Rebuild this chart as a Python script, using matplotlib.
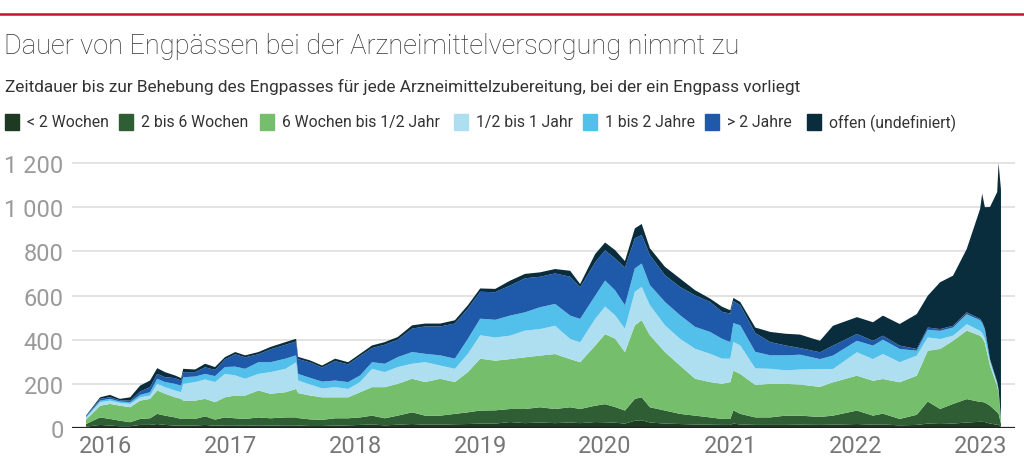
import matplotlib.pyplot as plt
import matplotlib.patches as mpatches
import pandas as pd

dates = [
    "2015-11-06", "2015-12-17", "2016-01-15", "2016-02-13", "2016-03-14", "2016-04-12",
    "2016-05-11", "2016-06-01", "2016-06-24", "2016-07-23", "2016-08-10", "2016-08-16",
    "2016-09-20", "2016-10-19", "2016-11-17", "2016-12-16", "2017-01-15", "2017-02-13",
    "2017-03-24", "2017-04-28", "2017-06-11", "2017-07-12", "2017-07-18", "2017-08-22",
    "2017-09-26", "2017-11-03", "2017-12-11", "2018-01-15", "2018-02-19", "2018-03-28",
    "2018-05-05", "2018-06-16", "2018-07-24", "2018-09-06", "2018-10-19", "2018-11-26",
    "2019-01-01", "2019-02-14", "2019-03-29", "2019-05-12", "2019-06-25", "2019-08-08",
    "2019-09-21", "2019-10-20", "2019-12-03", "2020-01-01", "2020-01-30", "2020-02-28",
    "2020-03-28", "2020-04-17", "2020-05-11", "2020-06-24", "2020-08-07", "2020-09-20",
    "2020-11-03", "2020-12-08", "2021-01-01", "2021-01-10", "2021-01-30", "2021-03-15",
    "2021-04-28", "2021-06-11", "2021-07-24", "2021-09-20", "2021-10-28", "2022-01-06",
    "2022-02-22", "2022-03-23", "2022-05-11", "2022-06-30", "2022-08-01", "2022-09-06",
    "2022-10-14", "2022-11-23", "2023-01-01", "2023-01-07", "2023-01-15", "2023-01-30",
    "2023-02-20", "2023-02-24", "2023-03-03",
]

lt_2w = [6, 14, 11, 8, 8, 14, 14, 18, 14, 11, 11, 11, 11, 14, 10, 12, 12, 10, 12, 11, 12, 12,
         11, 9, 9, 11, 12, 14, 16, 12, 15, 18, 15, 15, 17, 18, 20, 20, 27, 22, 25, 22, 25, 22,
         27, 26, 24, 20, 33, 35, 25, 20, 18, 16, 15, 14, 14, 20, 16, 14, 14, 14, 15, 14, 15,
         18, 15, 16, 12, 14, 20, 18, 20, 25, 28, 28, 27, 20, 15, 14, 5]
w2_6 = [12, 34, 30, 25, 18, 27, 30, 46, 42, 37, 30, 30, 30, 39, 28, 36, 32, 31, 36, 33, 36, 36,
        34, 30, 28, 33, 32, 34, 40, 32, 41, 53, 41, 41, 47, 53, 59, 60, 59, 64, 69, 64, 69, 64,
        74, 82, 71, 59, 99, 104, 69, 59, 46, 40, 33, 27, 27, 60, 48, 34, 34, 42, 41, 36, 41,
        61, 41, 49, 29, 46, 100, 68, 89, 106, 90, 90, 88, 81, 56, 51, 15]
w6_half = [20, 53, 68, 68, 68, 83, 88, 106, 99, 91, 91, 83, 83, 79, 79, 91, 103, 106, 122, 111,
           114, 129, 113, 108, 102, 95, 95, 114, 129, 141, 144, 152, 152, 167, 144, 182, 235,
           225, 226, 234, 234, 249, 218, 212, 272, 317, 310, 265, 333, 349, 326, 265, 219, 167,
           160, 159, 167, 180, 181, 147, 152, 144, 141, 136, 151, 158, 158, 157, 166, 177, 230,
           272, 286, 310, 300, 290, 270, 181, 119, 95, 20]
half_1 = [8, 16, 15, 13, 15, 15, 15, 30, 30, 31, 30, 76, 84, 88, 91, 106, 91, 76, 75, 98, 106,
          121, 57, 50, 40, 46, 38, 46, 83, 68, 76, 68, 90, 60, 60, 83, 106, 105, 106, 121, 120,
          128, 91, 90, 121, 125, 106, 106, 152, 151, 136, 121, 121, 136, 128, 114, 106, 130,
          129, 75, 68, 61, 68, 81, 60, 106, 98, 113, 91, 91, 60, 45, 23, 29, 22, 22, 20, 16,
          10, 8, 2]
y1_2 = [4, 7, 8, 6, 8, 11, 15, 23, 23, 30, 30, 30, 25, 25, 27, 31, 40, 45, 53, 45, 46, 31, 30,
        30, 31, 30, 31, 30, 30, 38, 45, 53, 38, 46, 46, 68, 75, 80, 91, 83, 99, 99, 106, 106,
        105, 118, 113, 106, 106, 106, 91, 106, 107, 99, 99, 90, 75, 85, 91, 75, 61, 68, 67,
        45, 61, 52, 61, 65, 60, 22, 35, 37, 37, 45, 48, 45, 40, 10, 5, 4, 1]
gt_2y = [3, 8, 7, 6, 7, 15, 23, 22, 22, 26, 23, 23, 20, 30, 28, 35, 56, 52, 36, 58, 63, 63, 67,
         70, 64, 88, 80, 88, 64, 86, 79, 106, 124, 131, 159, 137, 122, 125, 136, 154, 138, 138,
         176, 143, 151, 137, 144, 170, 136, 129, 136, 121, 128, 143, 136, 122, 129, 100, 91,
         85, 60, 45, 30, 31, 45, 31, 22, 18, 15, 8, 10, 8, 8, 9, 6, 6, 5, 4, 3, 3, 1]
offen = [3, 7, 11, 6, 15, 27, 30, 26, 23, 12, 11, 15, 12, 16, 13, 10, 10, 9, 10, 11, 12, 12,
         10, 9, 9, 11, 10, 10, 12, 12, 12, 15, 13, 13, 15, 15, 15, 15, 22, 20, 20, 20, 27, 15,
         38, 35, 38, 30, 45, 50, 31, 38, 38, 23, 15, 23, 15, 14, 15, 25, 46, 53, 61, 52, 90,
         76, 84, 91, 98, 158, 144, 212, 227, 287, 498, 580, 550, 689, 861, 1025, 1036]

labels = ["< 2 Wochen", "2 bis 6 Wochen", "6 Wochen bis 1/2 Jahr", "1/2 bis 1 Jahr",
          "1 bis 2 Jahre", "> 2 Jahre", "offen (undefiniert)"]
colors = ["#1e3a23", "#2f5e34", "#74be6c", "#aedff0", "#52c0ea", "#1f5aaa", "#092d3d"]

plt.rcParams['font.family'] = ['Roboto', 'DejaVu Sans']

x = pd.to_datetime(dates)
fig = plt.figure(figsize=(10.24, 4.77), dpi=100)
ax = fig.add_axes([72 / 1024, 48 / 477, 943 / 1024, 276 / 477])

ax.stackplot(x, lt_2w, w2_6, w6_half, half_1, y1_2, gt_2y, offen,
             colors=colors, linewidth=0)

ax.set_xlim(pd.Timestamp("2015-09-26"), pd.Timestamp("2023-04-13"))
ax.set_ylim(0, 1250)
yt = [0, 200, 400, 600, 800, 1000, 1200]
ax.set_yticks(yt)
ax.set_yticklabels([f"{v:,}".replace(",", " ") for v in yt])
years = list(range(2016, 2024))
ax.set_xticks(pd.to_datetime([f"{y}-01-01" for y in years]))
ax.set_xticklabels([str(y) for y in years])
ax.tick_params(axis='y', length=0, pad=6, labelsize=17, labelcolor='#9a9a9a')
ax.tick_params(axis='x', length=0, pad=4, labelsize=17, labelcolor='#777777')
ax.grid(axis='y', color='#e0e0e0', linewidth=1.3)
ax.set_axisbelow(True)
for s in ax.spines.values():
    s.set_visible(False)
ax.axhline(0, color='#222222', linewidth=1.6, zorder=5)

# header
fig.add_artist(plt.Line2D([0, 1], [1 - 15 / 477, 1 - 15 / 477], color='#c8102e', linewidth=1.8))
fig.text(4 / 1024, 1 - 47 / 477, "Dauer von Engpässen bei der Arzneimittelversorgung nimmt zu",
         fontsize=19.5, color='#333333', va='center', ha='left', fontweight='light')
fig.text(5 / 1024, 1 - 87 / 477,
         "Zeitdauer bis zur Behebung des Engpasses für jede Arzneimittelzubereitung, bei der ein Engpass vorliegt",
         fontsize=12.4, color='#333333', va='center', ha='left')

# legend
leg_x = [5, 119, 260, 454, 583, 705, 807]
for lx, lab, c in zip(leg_x, labels, colors):
    fig.add_artist(mpatches.Rectangle((lx / 1024, 1 - 131 / 477), 14 / 1024, 16 / 477,
                                      color=c, transform=fig.transFigure))
    fig.text((lx + 22) / 1024, 1 - 123 / 477, lab, fontsize=11.3, color='#333333',
             va='center', ha='left')

fig.savefig("out.png", dpi=100)
